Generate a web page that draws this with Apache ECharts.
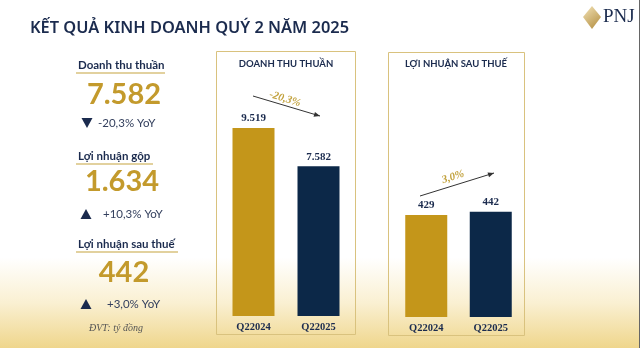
<!DOCTYPE html>
<html><head><meta charset="utf-8">
<script src="https://cdn.jsdelivr.net/npm/echarts@6/dist/echarts.min.js"></script>
<style>html,body{margin:0;padding:0;background:#fff}#c{width:640px;height:348px}</style>
</head><body><div id="c"></div>
<script>
const categories = ['Q22024', 'Q22025'];
const revenue = [9519, 7582];
const netProfit = [429, 442];
const revenueChange = '-20,3%';
const profitChange = '3,0%';
const kpiTitles = ['Doanh thu thuần', 'Lợi nhuận gộp', 'Lợi nhuận sau thuế'];
const kpiValues = ['7.582', '1.634', '442'];
const kpiChanges = ['-20,3% YoY', '+10,3% YoY', '+3,0% YoY'];
const kpiUp = [false, true, true];
const panelTitles = ['DOANH THU THUẦN', 'LỢI NHUẬN SAU THUẾ'];

const GOLD = '#c4961a', NAVY = '#0c2848', TXT = '#1b2b4e', NUMGOLD = '#c39a2c', LINEGOLD = '#d9c27e';
const fmt = v => v >= 1000 ? Math.floor(v / 1000) + '.' + String(v % 1000).padStart(3, '0') : String(v);

const chart = echarts.init(document.getElementById('c'), null, {renderer: 'canvas'});

const g = [];
g.push({type: 'rect', z: -100, shape: {x: 0, y: 0, width: 640, height: 348},
  style: {fill: new echarts.graphic.LinearGradient(0, 0, 0, 1, [
    {offset: 0, color: '#ffffff'}, {offset: 0.74, color: '#ffffff'},
    {offset: 0.87, color: '#faf0d2'}, {offset: 1, color: '#efd68c'}])}});
g.push({type: 'line', shape: {x1: 639.5, y1: 0, x2: 639.5, y2: 348}, style: {stroke: '#666', lineWidth: 1}});
// title
g.push({type: 'text', x: 30, y: 28, style: {text: 'KẾT QUẢ KINH DOANH QUÝ 2 NĂM 2025', fill: TXT,
  font: '600 16.4px "Noto Sans"', textVerticalAlign: 'middle'}});
// logo
g.push({type: 'polygon', shape: {points: [[592, 6], [601, 17], [592, 29], [583, 17]]},
  style: {fill: new echarts.graphic.LinearGradient(0, 0, 1, 1, [{offset: 0, color: '#f3e3b8'}, {offset: 1, color: '#b08a3a'}])}});
g.push({type: 'text', x: 603, y: 17, style: {text: 'PNJ', fill: TXT, font: '500 19px "Liberation Serif"', textVerticalAlign: 'middle'}});

// KPI blocks
const kpiY = [65, 156, 244];
const numY = [95, 182, 273];
const chgY = [123, 214, 304];
const numX = [124, 122, 124];
const lineEnd = [165, 153, 178];
const triX = [87, 86, 86];
const chgX = [98, 103, 107];
for (let i = 0; i < 3; i++) {
  g.push({type: 'text', x: 78, y: kpiY[i], style: {text: kpiTitles[i], fill: TXT, font: 'bold 11.5px "Lato"', textVerticalAlign: 'middle'}});
  g.push({type: 'line', shape: {x1: 76, y1: kpiY[i] + 8, x2: lineEnd[i], y2: kpiY[i] + 8}, style: {stroke: LINEGOLD, lineWidth: 1.5}});
  g.push({type: 'text', x: numX[i], y: numY[i], style: {text: kpiValues[i], fill: NUMGOLD, font: 'bold 29px "Lato"', textAlign: 'center', textVerticalAlign: 'middle'}});
  const t = triX[i], y = chgY[i];
  g.push({type: 'polygon', shape: {points: kpiUp[i] ? [[t, y - 5], [t + 5.5, y + 5], [t - 5.5, y + 5]] : [[t - 5.5, y - 5], [t + 5.5, y - 5], [t, y + 5]]}, style: {fill: TXT}});
  g.push({type: 'text', x: chgX[i], y: y, style: {text: kpiChanges[i], fill: '#34405e', font: '11.5px "Lato"', textVerticalAlign: 'middle'}});
}
g.push({type: 'text', x: 89, y: 328, style: {text: 'ĐVT: tỷ đồng', fill: '#555', font: 'italic 10px "Liberation Serif"', textVerticalAlign: 'middle'}});

// panels
g.push({type: 'rect', shape: {x: 216.5, y: 51.5, width: 139, height: 283}, style: {fill: 'none', stroke: LINEGOLD, lineWidth: 1}});
g.push({type: 'rect', shape: {x: 388.5, y: 52.5, width: 136, height: 283}, style: {fill: 'none', stroke: LINEGOLD, lineWidth: 1}});
g.push({type: 'text', x: 286, y: 64, style: {text: panelTitles[0], fill: TXT, font: 'bold 9.5px "Lato"', textAlign: 'center', textVerticalAlign: 'middle'}});
g.push({type: 'text', x: 456, y: 64, style: {text: panelTitles[1], fill: TXT, font: 'bold 9.5px "Lato"', textAlign: 'center', textVerticalAlign: 'middle'}});

function arrow(x1, y1, x2, y2) {
  g.push({type: 'line', shape: {x1, y1, x2, y2}, style: {stroke: '#333', lineWidth: 1}});
  const a = Math.atan2(y2 - y1, x2 - x1), L = 6, W = 2.5;
  const bx = x2 - L * Math.cos(a), by = y2 - L * Math.sin(a);
  g.push({type: 'polygon', shape: {points: [[x2, y2], [bx - W * Math.sin(a), by + W * Math.cos(a)], [bx + W * Math.sin(a), by - W * Math.cos(a)]]}, style: {fill: '#333'}});
}
arrow(253, 96, 320, 116);
arrow(420, 196, 494, 173);
g.push({type: 'text', x: 285, y: 99, rotation: -0.295, style: {text: revenueChange, fill: '#c2a23e', font: 'italic bold 11px "Liberation Serif"', textAlign: 'center', textVerticalAlign: 'middle'}});
g.push({type: 'text', x: 453, y: 177, rotation: 0.305, style: {text: profitChange, fill: '#c2a23e', font: 'italic bold 11px "Liberation Serif"', textAlign: 'center', textVerticalAlign: 'middle'}});

const colorFn = p => p.dataIndex === 0 ? GOLD : NAVY;
const xAx = (gi) => ({type: 'category', gridIndex: gi, data: categories, axisLine: {show: false}, axisTick: {show: false},
  axisLabel: {margin: 6, color: TXT, fontFamily: 'Liberation Serif', fontWeight: 'bold', fontSize: 10.5}});
const yAx = (gi, max) => ({type: 'value', gridIndex: gi, min: 0, max: max, show: false, splitLine: {show: false}});
const lbl = {show: true, position: 'top', distance: 4, color: TXT, fontFamily: 'Liberation Serif', fontWeight: 'bold', fontSize: 11, formatter: p => fmt(p.value)};

chart.setOption({
  animation: false,
  grid: [{left: 221, width: 130, top: 79, bottom: 32}, {left: 394, width: 129, top: 79, bottom: 31}],
  xAxis: [xAx(0), xAx(1)],
  yAxis: [yAx(0, 12000), yAx(1, 1000)],
  series: [
    {type: 'bar', xAxisIndex: 0, yAxisIndex: 0, data: revenue, barWidth: 42, itemStyle: {color: colorFn}, label: lbl},
    {type: 'bar', xAxisIndex: 1, yAxisIndex: 1, data: netProfit, barWidth: 42, itemStyle: {color: colorFn}, label: lbl}
  ],
  graphic: g
});
</script></body></html>
